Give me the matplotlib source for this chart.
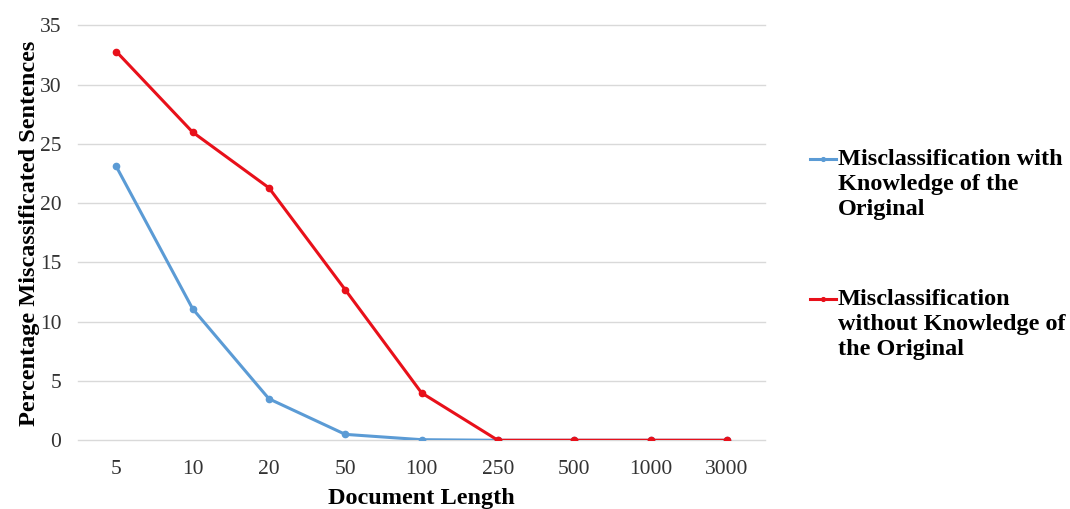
import matplotlib
matplotlib.use("Agg")
import matplotlib.pyplot as plt
from matplotlib.legend_handler import HandlerLine2D

# Document length categories and misclassification percentages
doc_lengths = ["5", "10", "20", "50", "100", "250", "500", "1000", "3000"]
with_knowledge = [23.1, 11.1, 3.5, 0.5, 0.05, 0, 0, 0, 0]
without_knowledge = [32.8, 26.0, 21.3, 12.7, 4.0, 0, 0, 0, 0]

plt.rcParams["font.family"] = ["Liberation Serif", "DejaVu Serif"]


class FirstLineHandler(HandlerLine2D):
    # put the legend marker next to the first line of a multi-line label
    def create_artists(self, legend, orig_handle, xdescent, ydescent,
                       width, height, fontsize, trans):
        arts = super().create_artists(legend, orig_handle, xdescent, ydescent,
                                      width, height, fontsize, trans)
        for a in arts:
            a.set_ydata([y + 18 for y in a.get_ydata()])
        return arts


fig = plt.figure(figsize=(10.7, 5.09), dpi=100)
ax = fig.add_axes([0.073, 0.135, 0.642, 0.815])

x = range(len(doc_lengths))
ax.plot(x, with_knowledge, color="#5b9bd5", lw=2.2, marker="o", ms=4.5,
        label="Misclassification with\nKnowledge of the\nOriginal")
ax.plot(x, without_knowledge, color="#e8101a", lw=2.2, marker="o", ms=4.5,
        label="Misclassification\nwithout Knowledge of\nthe Original")

ax.set_xlim(-0.5, len(doc_lengths) - 0.5)
ax.set_ylim(0, 35)
ax.set_yticks(range(0, 36, 5))
ax.set_xticks(list(x))
ax.set_xticklabels(doc_lengths)
ax.tick_params(axis="both", length=0, labelsize=15.5, colors="#333333")
ax.tick_params(axis="x", pad=14)
ax.tick_params(axis="y", pad=12)
ax.grid(axis="y", color="#d9d9d9", lw=1)
for gl in ax.get_ygridlines():
    gl.set_clip_on(False)
ax.set_axisbelow(True)
for s in ax.spines.values():
    s.set_visible(False)

ax.set_xlabel("Document Length", fontsize=17.5, fontweight="bold", labelpad=7)
ax.set_ylabel("Percentage Miscassificated Sentences", fontsize=17.5,
              fontweight="bold", labelpad=0)

leg = ax.legend(loc="center left", bbox_to_anchor=(1.033, 0.448), frameon=False,
                prop={"size": 17.5, "weight": "bold"}, handlelength=1.1,
                handletextpad=0.05, labelspacing=2.85, markerscale=0.6,
                handler_map={plt.Line2D: FirstLineHandler()})
for t in leg.get_texts():
    t.set_linespacing(1.25)

fig.savefig("out.png", dpi=100)
